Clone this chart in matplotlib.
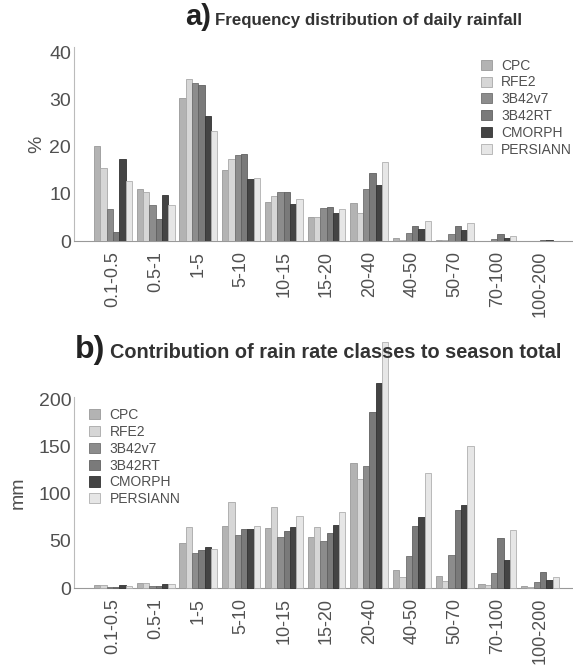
import numpy as np
import matplotlib
matplotlib.use("Agg")
import matplotlib.pyplot as plt

plt.rcParams['font.family'] = ['Liberation Sans', 'DejaVu Sans']

# rain rate classes (mm/day)
clases = ['0.1-0.5', '0.5-1', '1-5', '5-10', '10-15', '15-20', '20-40',
          '40-50', '50-70', '70-100', '100-200']
productos = ['CPC', 'RFE2', '3B42v7', '3B42RT', 'CMORPH', 'PERSIANN']

# a) frecuencia (%)
frec_cpc = [20.1, 11.0, 30.2, 15.1, 8.3, 5.2, 8.0, 0.7, 0.2, 0.1, 0.05]
frec_rfe2 = [15.4, 10.3, 34.2, 17.4, 9.6, 5.2, 6.0, 0.2, 0.15, 0.05, 0.02]
frec_v7 = [6.8, 7.6, 33.5, 18.3, 10.4, 6.9, 11.1, 1.8, 1.5, 0.4, 0.1]
frec_rt = [2.0, 4.6, 33.1, 18.4, 10.4, 7.3, 14.5, 3.2, 3.1, 1.4, 0.3]
frec_cmorph = [17.4, 9.7, 26.4, 13.2, 7.9, 5.9, 11.9, 2.5, 2.3, 0.55, 0.15]
frec_persiann = [12.7, 7.6, 23.3, 13.4, 9.0, 6.8, 16.7, 4.2, 3.8, 1.0, 0.1]

# b) contribucion al total de la temporada (mm)
mm_cpc = [3.5, 5.3, 47.5, 65.5, 63.4, 54.2, 132.4, 19.7, 13.0, 4.6, 1.8]
mm_rfe2 = [3.0, 5.0, 64.8, 91.2, 85.9, 64.8, 115.5, 11.6, 7.4, 2.8, 1.4]
mm_v7 = [1.5, 2.5, 37.7, 56.0, 54.2, 50.0, 129.6, 34.5, 35.2, 16.2, 6.3]
mm_rt = [1.0, 2.0, 40.5, 62.3, 60.2, 58.1, 186.6, 66.2, 82.7, 52.8, 17.6]
mm_cmorph = [3.0, 4.2, 43.3, 62.7, 64.8, 67.3, 217.6, 75.0, 88.4, 30.0, 8.1]
mm_persiann = [2.5, 4.0, 41.5, 66.2, 76.4, 81.0, 261.6, 122.0, 150.7, 61.6, 12.0]

colores = ['#b3b3b3', '#d6d6d6', '#8c8c8c', '#7a7a7a', '#444444', '#e6e6e6']
bordes = ['#999999', '#a8a8a8', '#707070', '#606060', '#333333', '#b0b0b0']

fig = plt.figure(figsize=(5.73, 6.66), dpi=100)
fig.patch.set_facecolor('white')

ax_a = fig.add_axes([0.129, 0.638, 0.871, 0.291])
ax_b = fig.add_axes([0.129, 0.117, 0.871, 0.287])

x = np.arange(len(clases))
ancho = 0.148


def panel(ax, series, ylim, yticks, ylabel, leg_anchor, clip):
    for j, vals in enumerate(series):
        ax.bar(x + (j - 2.5) * ancho, vals, ancho, color=colores[j],
               edgecolor=bordes[j], linewidth=0.6, label=productos[j],
               clip_on=clip, zorder=3)
    ax.set_xlim(-0.913, 10.77)
    ax.set_ylim(*ylim)
    ax.set_yticks(yticks)
    ax.set_xticks(x)
    ax.set_xticklabels(clases, rotation=90)
    ax.tick_params(axis='both', length=0, colors='#505050')
    ax.tick_params(axis='x', pad=7, labelsize=13)
    ax.tick_params(axis='y', pad=2, labelsize=14)
    for s in ['top', 'right']:
        ax.spines[s].set_visible(False)
    ax.spines['left'].set_color('#bbbbbb')
    ax.spines['bottom'].set_color('#999999')
    ax.spines['left'].set_linewidth(0.8)
    ax.spines['bottom'].set_linewidth(0.8)
    ax.set_ylabel(ylabel, fontsize=14, color='#505050')
    ax.set_facecolor('none')
    leg = ax.legend(loc='upper left', bbox_to_anchor=leg_anchor, frameon=False,
                    fontsize=10, handlelength=0.75, handleheight=0.75,
                    handletextpad=0.7, labelspacing=0.2, borderaxespad=0)
    for t in leg.get_texts():
        t.set_color('#505050')


panel(ax_a, [frec_cpc, frec_rfe2, frec_v7, frec_rt, frec_cmorph, frec_persiann],
      (0, 41), [0, 10, 20, 30, 40], '%', (0.805, 0.97), True)
panel(ax_b, [mm_cpc, mm_rfe2, mm_v7, mm_rt, mm_cmorph, mm_persiann],
      (0, 203), [0, 50, 100, 150, 200], 'mm', (0.02, 0.97), False)

ax_a.yaxis.set_label_coords(-0.058, 0.5)
ax_b.yaxis.set_label_coords(-0.095, 0.5)

# titulos
fig.text(0.323, 0.962, 'a)', fontsize=21, fontweight='bold', color='#222222',
         va='baseline')
fig.text(0.375, 0.962, 'Frequency distribution of daily rainfall', fontsize=12.2,
         fontweight='bold', color='#333333', va='baseline')
fig.text(0.131, 0.463, 'b)', fontsize=23, fontweight='bold', color='#222222',
         va='baseline')
fig.text(0.192, 0.463, 'Contribution of rain rate classes to season total',
         fontsize=14.3, fontweight='bold', color='#333333', va='baseline')

plt.savefig('out.png', dpi=100)
